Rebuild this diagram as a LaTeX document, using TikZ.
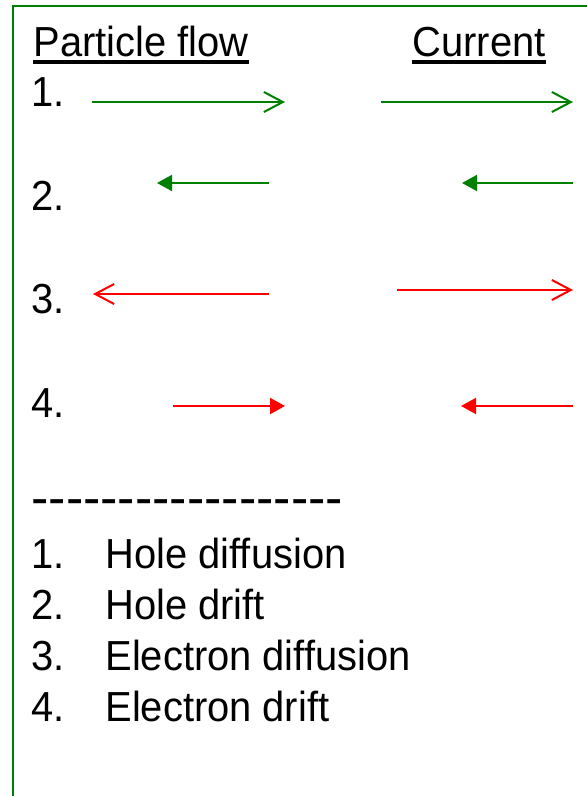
\documentclass[tikz,border=0pt]{standalone}
\usepackage{fontspec}
\setmainfont{Liberation Sans}[FakeStretch=0.95]
\newfontfamily\dashfont{Liberation Sans}
\usetikzlibrary{arrows.meta,calc}
\definecolor{flowgreen}{RGB}{0,128,0}
\definecolor{flowred}{RGB}{255,0,0}

\begin{document}
\begin{tikzpicture}[
  x=0.5pt, y=-0.5pt,
  every node/.style={inner sep=0pt, anchor=base west},
  %% ─── styles ────────────────────────────────────────────────
  txt/.style={font=\fontsize{21}{25}\selectfont},
  sepline/.style={font=\dashfont\fontsize{26}{30}\selectfont},
  uline/.style={line width=2pt},
  frame/.style={draw=flowgreen, line width=1pt},
  openarr/.style={-{Straight Barb[length=9.5pt,width=10pt]}, line width=1pt},
  fillarr/.style={-{Triangle[length=7.5pt,width=8pt]}, line width=1pt}
]
  \useasboundingbox (0,0) rectangle (586,796);

  %% ─── 1. frame ──────────────────────────────────────────────
  \draw[frame] (13,800) -- (13,6) -- (590,6);

  %% ─── 2. headings ───────────────────────────────────────────
  \node[txt] (pflow) at (33,57) {Particle flow};
  \node[txt, anchor=base east] (curr) at (546,57) {Current};
  \draw[uline] ($(pflow.base west)+(0,5)$) -- ($(pflow.base east)+(0,5)$);
  \draw[uline] ($(curr.base west)+(0,5)$) -- ($(curr.base east)+(0,5)$);

  %% ─── 3. rows with arrows ───────────────────────────────────
  \foreach \i/\yb in {1/107, 2/211, 3/314, 4/417}
    \node[txt] (row\i) at (31,\yb) {\i.};

  \foreach \k/\xa/\xb/\y/\c/\t in {
      p1/92/285/102/flowgreen/openarr,  c1/381/573/102/flowgreen/openarr,
      p2/269/157/183/flowgreen/fillarr, c2/573/462/183/flowgreen/fillarr,
      p3/269/93/294/flowred/openarr,    c3/397/573/290/flowred/openarr,
      p4/173/285/406/flowred/fillarr,   c4/573/461/406/flowred/fillarr} {
    \coordinate (\k s) at (\xa,\y);
    \coordinate (\k e) at (\xb,\y);
    \draw[\t, \c] (\k s) -- (\k e);
  }

  %% ─── 4. separator and legend ───────────────────────────────
  \node[sepline] (sep) at (31,515) {\foreach \j in {1,...,18}{-\kern0pt}};

  \foreach \i/\lab/\yb in {1/Hole diffusion/568, 2/Hole drift/619,
                           3/Electron diffusion/670, 4/Electron drift/721} {
    \node[txt] (num\i) at (31,\yb) {\i.};
    \node[txt] (lab\i) at (105,\yb) {\lab};
  }

\end{tikzpicture}
\end{document}
